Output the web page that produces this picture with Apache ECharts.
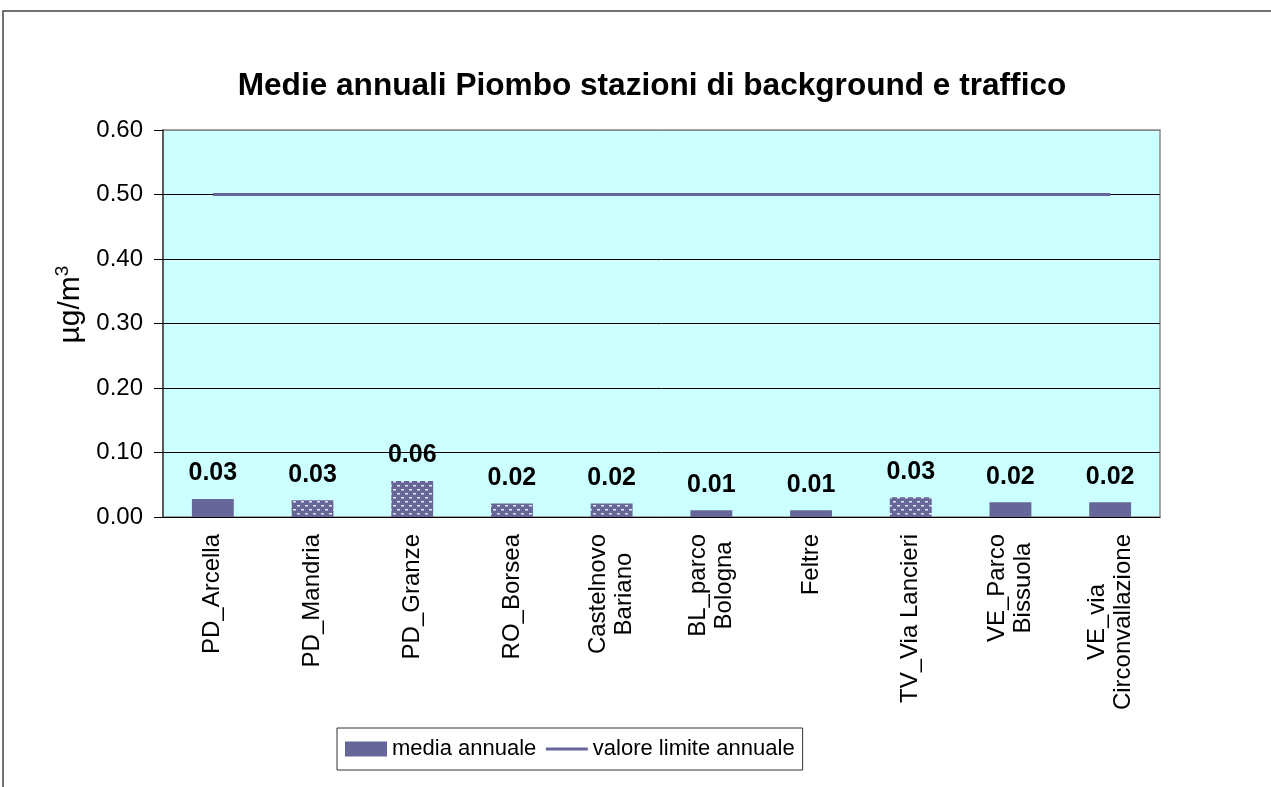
<!DOCTYPE html>
<html><head><meta charset="utf-8">
<script src="https://cdn.jsdelivr.net/npm/echarts@6/dist/echarts.min.js"></script>
<style>html,body{margin:0;padding:0;background:#fff}#c{width:1271px;height:787px}</style>
</head><body><div id="c"></div>
<script>
const chartTitle = 'Medie annuali Piombo stazioni di background e traffico';
const categories = ['PD_Arcella', 'PD_Mandria', 'PD_Granze', 'RO_Borsea', 'Castelnovo\nBariano',
  'BL_parco\nBologna', 'Feltre', 'TV_Via Lancieri', 'VE_Parco\nBissuola', 'VE_via\nCirconvallazione'];
const mediaAnnuale = [0.028, 0.026, 0.056, 0.021, 0.021, 0.0104, 0.0104, 0.0305, 0.023, 0.023];
const valoreLimite = [0.5, 0.5, 0.5, 0.5, 0.5, 0.5, 0.5, 0.5, 0.5, 0.5];
const hatchedStations = ['PD_Mandria', 'PD_Granze', 'RO_Borsea', 'Castelnovo\nBariano', 'TV_Via Lancieri'];

const FONT = '"Liberation Sans", Arial, sans-serif';
const BAR = '#666699';

const pc = document.createElement('canvas');
pc.width = 8; pc.height = 8;
const px = pc.getContext('2d');
px.fillStyle = BAR; px.fillRect(0, 0, 8, 8);
px.fillStyle = '#e6e6f2';
px.fillRect(1, 1, 3, 1.5);
px.fillRect(5, 5, 3, 1.5);

const barData = mediaAnnuale.map((v, i) => hatchedStations.includes(categories[i])
  ? { value: v, itemStyle: { color: { image: pc, repeat: 'repeat' } } }
  : { value: v });

const chart = echarts.init(document.getElementById('c'), null, { renderer: 'canvas' });
chart.setOption({
  animation: false,
  textStyle: { fontFamily: FONT },
  title: {
    text: chartTitle, left: 652, top: 70, textAlign: 'center', padding: 0,
    textStyle: { fontFamily: FONT, fontSize: 31.6, fontWeight: 'bold', color: '#000' }
  },
  graphic: [{
    type: 'rect', shape: { x: 3, y: 11, width: 2000, height: 2000 },
    style: { fill: null, stroke: '#444', lineWidth: 1.5 }, silent: true, z: -10
  }],
  grid: {
    left: 163, top: 130, right: 111, bottom: 270,
    show: true, backgroundColor: '#CCFFFF', borderColor: '#888', borderWidth: 1.5
  },
  legend: {
    left: 337, top: 728, padding: [10, 8, 10, 8], itemGap: 8,
    borderColor: '#333', borderWidth: 1,
    itemWidth: 42, itemHeight: 15,
    textStyle: { fontFamily: FONT, fontSize: 22, color: '#000' },
    data: [
      { name: 'media annuale', icon: 'rect' },
      { name: 'valore limite annuale', itemStyle: { opacity: 0 }, lineStyle: { color: BAR, width: 3, opacity: 1 } }
    ]
  },
  xAxis: {
    type: 'category', data: categories,
    axisLine: { lineStyle: { color: '#000', width: 1 } },
    axisTick: { length: 8, lineStyle: { color: '#000' } },
    axisLabel: {
      rotate: 90, margin: 17, interval: 0, color: '#000',
      formatter: v => v.split('\n').map(l => '{c|' + l + '}').join('\n'),
      rich: { c: { align: 'center', fontSize: 24, lineHeight: 26, fontFamily: FONT, color: '#000' } }
    }
  },
  yAxis: {
    type: 'value', min: 0, max: 0.6, interval: 0.1,
    name: '{a|µg/m}{s|3}', nameLocation: 'middle', nameGap: 72,
    nameTextStyle: {
      padding: [0, 0, 0, 38],
      rich: {
        a: { fontSize: 30, fontFamily: FONT, color: '#000', lineHeight: 34 },
        s: { fontSize: 19, fontFamily: FONT, color: '#000', verticalAlign: 'top', lineHeight: 34 }
      }
    },
    axisLine: { show: true, lineStyle: { color: '#404040', width: 1.5 } },
    axisTick: { show: true, length: 9, lineStyle: { color: '#000' } },
    axisLabel: { margin: 20, fontSize: 24, color: '#000', fontFamily: FONT, formatter: v => v.toFixed(2) },
    splitLine: { lineStyle: { color: ['#000', '#000', '#000', '#000', '#000', '#000', '#888'], width: 1 } }
  },
  series: [
    {
      name: 'media annuale', type: 'bar', data: barData, barWidth: '42%',
      itemStyle: { color: BAR },
      label: {
        show: true, position: 'top', distance: 13,
        formatter: p => p.value.toFixed(2),
        fontFamily: FONT, fontSize: 25, fontWeight: 'bold', color: '#000'
      }
    },
    {
      name: 'valore limite annuale', type: 'line', data: valoreLimite,
      symbol: 'none', lineStyle: { color: BAR, width: 3 }, itemStyle: { color: BAR }, z: 3
    }
  ]
});
</script></body></html>
